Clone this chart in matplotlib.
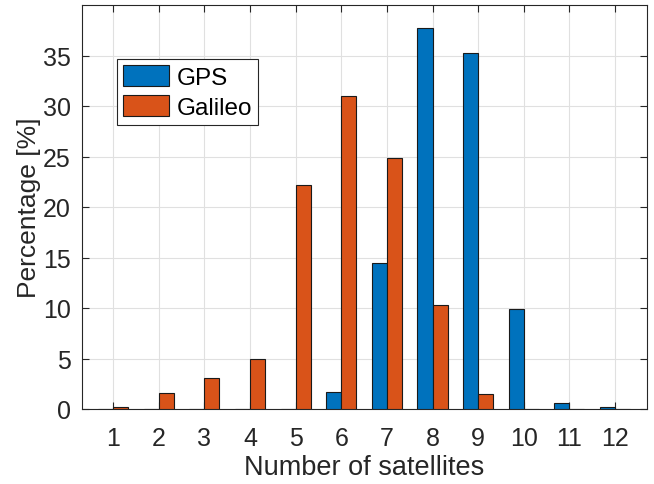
import numpy as np
import matplotlib.pyplot as plt

plt.rcParams['font.family'] = ['Liberation Sans', 'DejaVu Sans']

sats = [1, 2, 3, 4, 5, 6, 7, 8, 9, 10, 11, 12]
gps = [0, 0, 0, 0, 0, 1.7, 14.5, 37.7, 35.2, 9.9, 0.6, 0.2]
galileo = [0.2, 1.6, 3.1, 5.0, 22.2, 31.0, 24.9, 10.3, 1.5, 0, 0, 0]

x = np.array(sats)
w = 0.33

fig = plt.figure(figsize=(6.54, 4.85), dpi=100)
ax = fig.add_axes([82 / 654, 75 / 485, 565 / 654, 404 / 485])

ax.bar(x - w / 2, gps, w, color='#0072BD', edgecolor='#1a1a1a', linewidth=0.8, label='GPS', zorder=3)
ax.bar(x + w / 2, galileo, w, color='#D95319', edgecolor='#1a1a1a', linewidth=0.8, label='Galileo', zorder=3)

ax.set_xlim(0.32, 12.7)
ax.set_ylim(0, 40)
ax.set_xticks(sats)
ax.set_yticks([0, 5, 10, 15, 20, 25, 30, 35])
ax.grid(True, color='#e0e0e0', linewidth=0.8, zorder=0)
ax.tick_params(direction='in', top=True, right=True, labelsize=18, length=5, color='#262626', labelcolor='#262626', pad=8)
ax.tick_params(axis='x', pad=12)
for s in ax.spines.values():
    s.set_color('#262626')
    s.set_linewidth(0.8)

ax.set_xlabel('Number of satellites', fontsize=19.5, color='#262626', labelpad=3)
ax.set_ylabel('Percentage [%]', fontsize=19, color='#262626', labelpad=1)

leg = ax.legend(loc='upper left', bbox_to_anchor=(0.062, 0.866), fontsize=17.5, fancybox=False,
                framealpha=1, edgecolor='#262626', handlelength=1.9, handleheight=0.95,
                borderaxespad=0, borderpad=0.25, labelspacing=0.25, handletextpad=0.3)
leg.get_frame().set_linewidth(0.8)

fig.savefig('out.png', dpi=100)
